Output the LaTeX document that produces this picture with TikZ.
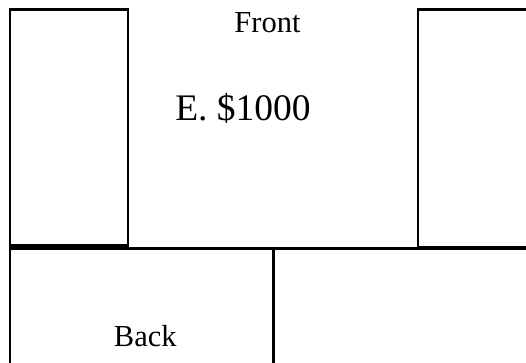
\documentclass[tikz,border=0pt]{standalone}
\usepackage{fontspec}
\setmainfont{Liberation Serif}
\begin{document}
\begin{tikzpicture}[x=1pt,y=-1pt,
  wall/.style={draw=black,line width=2.2pt},
  thick wall/.style={draw=black,line width=3pt},
  lbl/.style={inner sep=0pt,anchor=base,text=black}]
\useasboundingbox (0,0) rectangle (526,362);
\clip (0,0) rectangle (526,362);
\draw[wall] (10,9.5) rectangle (128,245.5);
\draw[wall] (418,9.5) rectangle (540,247);
\draw[thick wall] (10,248.5) -- (540,248.5);
\draw[wall] (10,245) -- (10,370);
\draw[thick wall] (273,248.5) -- (273,370);
\node[lbl,font=\fontsize{30.5}{34}\selectfont] (front) at (267.5,32.7) {Front};
\node[lbl,font=\fontsize{37.5}{42}\selectfont] (price) at (243,120) {E. \$1000};
\node[lbl,font=\fontsize{30.5}{34}\selectfont] (back) at (145.3,346) {Back};
\end{tikzpicture}
\end{document}
